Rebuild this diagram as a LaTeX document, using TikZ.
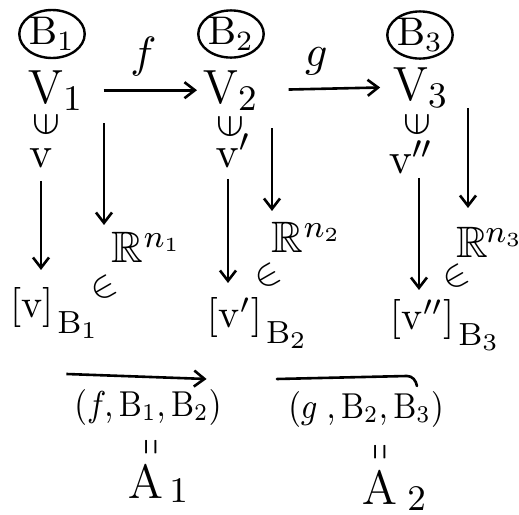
\documentclass[tikz,border=0pt]{standalone}
\usepackage{amsmath,amssymb}
\usepackage{graphicx}
\usetikzlibrary{arrows.meta,shapes.geometric}
\newcommand{\fs}[1]{\fontsize{#1}{#1}\selectfont}
\newcommand{\lowsub}[1]{\raisebox{-4pt}{\fs{8.5}$\mathrm{B}_{#1}$}}
\newcommand{\isin}{\rotatebox{90}{\scalebox{1.3}{$\in$}}}
\newcommand{\vpar}{\scalebox{1}[0.28]{$\parallel$}}
\newcommand{\narrow}[1]{\scalebox{0.88}[1]{#1}}
\begin{document}
\begin{tikzpicture}[x=0.25pt,y=-0.25pt,
  every node/.style={inner sep=0pt, outer sep=0pt},
  arr/.style={line width=0.65pt, -{Straight Barb[length=2.6pt,width=4pt,line width=0.65pt]}},
  plain/.style={line width=0.65pt},
  basis/.style={draw, ellipse, line width=0.6pt, font=\fs{10}},
  bigsp/.style={font=\fs{12.8}, anchor=base west},
  vec/.style={font=\fs{11}, anchor=base},
  elm/.style={font=\fs{7}},
  reals/.style={font=\fs{11}, anchor=base west},
  coord/.style={font=\fs{10}, anchor=base west},
  ein/.style={font=\fs{9}, rotate=30},
  tup/.style={font=\fs{9}},
  eqv/.style={font=\fs{12}},
  maplab/.style={font=\fs{11}}]
\useasboundingbox (0,0) rectangle (519,515);

% bases
\node[basis, minimum width=13.75pt, minimum height=12pt] (b1) at (52,34) {$\mathrm{B}_1$};
\node[basis, minimum width=13.75pt, minimum height=11.75pt] (b2) at (231,34) {$\mathrm{B}_2$};
\node[basis, minimum width=12.5pt, minimum height=11.5pt] (b3) at (420,35) {$\mathrm{B}_3$};

% spaces
\node[bigsp] (v1) at (28,103) {$\mathrm{V}_1$};
\node[bigsp] (v2) at (203,103) {$\mathrm{V}_2$};
\node[bigsp] (v3) at (393,100) {$\mathrm{V}_3$};

% maps
\draw[arr, shorten <=5pt, shorten >=1.5pt] (v1.east) -- (v2.west)
  node[maplab, midway, above=3.5pt] (flab) {$f$};
\draw[arr, shorten <=7.5pt, shorten >=3.2pt] (v2.east) -- (v3.west)
  node[maplab, pos=0.43, above=3.5pt] (glab) {$g$};

% membership
\node[elm] (e1) at (46,124) {\isin};
\node[elm] (e2) at (230,126) {\isin};
\node[elm] (e3) at (417,124) {\isin};

% vectors
\node[vec] (x1) at (41,167) {$\mathrm{v}$};
\node[vec] (x2) at (233,167) {$\mathrm{v}'$};
\node[vec] (x3) at (411,174) {$\mathrm{v}''$};

% R^n
\node[reals] (r1) at (112,263) {$\mathbb{R}^{n_1}$};
\node[reals] (r2) at (272,253) {$\mathbb{R}^{n_2}$};
\node[reals] (r3) at (457,258) {$\mathbb{R}^{\kern-0.8pt n_3}$};

% coordinate vectors
\node[coord] (c1) at (10,318) {$[\mathrm{v}]$\kern1pt\lowsub{1}};
\node[coord] (c2) at (207,328) {$[\mathrm{v}']$\kern1pt\lowsub{2}};
\node[coord] (c3) at (390,330) {$[\mathrm{v}'']$\kern1pt\lowsub{3}};

% in-signs
\node[ein] (i1) at (104,289) {$\in$};
\node[ein] (i2) at (268,277) {$\in$};
\node[ein] (i3) at (456,278) {$\in$};

% vertical arrows v -> [v]
\coordinate (p1) at (41,270);
\coordinate (p2) at (228,283);
\coordinate (p3) at (419,290);
\draw[arr, shorten <=3.5pt] (x1) -- (p1);
\draw[arr, shorten <=3pt] (x2.south -| p2) -- (p2);
\draw[arr, shorten <=1pt] (x3.south -| p3) -- (p3);

% coordinate maps to R^n
\coordinate (s1) at (104,123);
\coordinate (s2) at (272,128);
\coordinate (s3) at (468,108);
\coordinate (t1) at (104,225);
\coordinate (t2) at (272,211);
\coordinate (t3) at (468,208);
\draw[arr] (s1) -- (t1);
\draw[arr] (s2) -- (t2);
\draw[arr] (s3) -- (t3);

% matrices
\node[tup] (m1) at (148,408) {\narrow{$(f,\mathrm{B}_1,\mathrm{B}_2)$}};
\node[tup] (m2) at (366,410) {\narrow{$(g\;,\mathrm{B}_2,\mathrm{B}_3)$}};
\draw[arr] ([shift={(-2pt,4pt)}]m1.north west) -- ([shift={(-3.75pt,2.75pt)}]m1.north east);
\coordinate (h1) at (277,379);
\coordinate (h2) at (407,376);
\coordinate (h3) at (417,386);
\draw[plain, line cap=round] (h1) -- (h2) to[out=0, in=100] (h3);

\node[eqv] (q1) at (151,447) {\vpar};
\node[eqv] (q2) at (380,452) {\vpar};

\node[bigsp] (a1) at (128,499) {$\mathrm{A}\raisebox{-1pt}{$\scriptstyle\,1$}$};
\node[bigsp] (a2) at (362,505) {$\mathrm{A}\raisebox{-1.5pt}{$\scriptstyle\;2$}$};
\end{tikzpicture}
\end{document}
